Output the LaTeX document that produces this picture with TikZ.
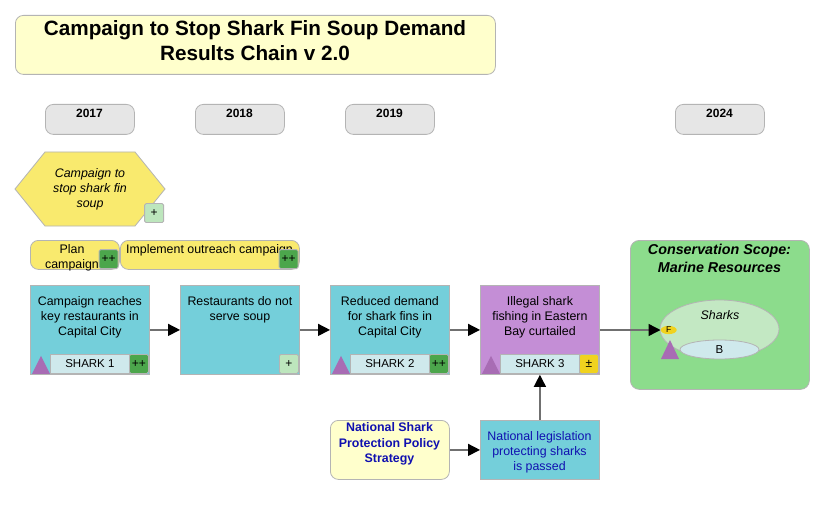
\documentclass[tikz,border=0pt]{standalone}
\usepackage{fontspec}
\setmainfont{Liberation Sans}
\usetikzlibrary{arrows.meta,shapes.geometric}
\definecolor{bordc}{HTML}{B4B4B4}
\definecolor{titlec}{HTML}{FFFFCC}
\definecolor{yearc}{HTML}{E6E6E6}
\definecolor{yelc}{HTML}{F9EA6E}
\definecolor{cyanc}{HTML}{74CFDA}
\definecolor{purpc}{HTML}{C48ED6}
\definecolor{tric}{HTML}{A86CB4}
\definecolor{labc}{HTML}{CFE9EC}
\definecolor{dgreen}{HTML}{4CA64C}
\definecolor{lgreen}{HTML}{BDE6BD}
\definecolor{pmc}{HTML}{F0D21E}
\definecolor{scopec}{HTML}{8CDC8C}
\definecolor{sharkc}{HTML}{C3E8C3}
\definecolor{bluetxt}{HTML}{1010B0}
\definecolor{linec}{HTML}{707070}
\tikzset{
  frame/.style={draw=bordc, line width=0.8pt},
  rbox/.style={frame, rounded corners=8pt, anchor=north west, inner sep=0pt},
  sbox/.style={frame, anchor=north west, inner sep=0pt},
  yearbox/.style={rbox, fill=yearc, minimum width=89pt, minimum height=30pt},
  yeartxt/.style={font=\bfseries\fontsize{12}{14}\selectfont, anchor=north, inner sep=0pt},
  chainbox/.style={sbox, minimum width=119pt, minimum height=89pt},
  txt/.style={font=\fontsize{12.4}{15}\selectfont, align=center, anchor=north, inner sep=0pt},
  badge/.style={frame, anchor=south east, minimum size=19pt, inner sep=0pt, rounded corners=1.5pt, font=\fontsize{12}{12}\selectfont},
  labbox/.style={frame, fill=labc, anchor=south west, minimum width=79pt, minimum height=19pt, inner sep=0pt, font=\fontsize{11.5}{12}\selectfont},
  tri/.style={fill=tric, draw=none},
  arr/.style={draw=linec, line width=1.4pt, -{Triangle[length=12pt,width=12pt,color=black]}},
}
\begin{document}
\begin{tikzpicture}[x=1pt,y=-1pt]
\useasboundingbox (0,0) rectangle (835,505);
\fill[white] (0,0) rectangle (835,505);
% title
\node[rbox, fill=titlec, minimum width=480pt, minimum height=59pt] (title) at (15,15) {};
\node[txt, font=\bfseries\fontsize{20.7}{25}\selectfont] (titletxt) at (255,20.5) {Campaign to Stop Shark Fin Soup Demand\\Results Chain v 2.0};
% years
\node[yearbox] (y17) at (45,104) {};
\node[yeartxt] (y17t) at (89.5,108.5) {2017};
\node[yearbox] (y18) at (195,104) {};
\node[yeartxt] (y18t) at (239.5,108.5) {2018};
\node[yearbox] (y19) at (345,104) {};
\node[yeartxt] (y19t) at (389.5,108.5) {2019};
\node[yearbox] (y24) at (675,104) {};
\node[yeartxt] (y24t) at (719.5,108.5) {2024};
% hexagon strategy
\draw[frame, fill=yelc] (15,189) -- (45,152) -- (135,152) -- (165,189) -- (135,226) -- (45,226) -- cycle;
\node[txt, font=\itshape\fontsize{12.4}{15}\selectfont] (hextxt) at (90,168.5) {Campaign to\\stop shark fin\\soup};
\node[badge, fill=lgreen] (hexb) at (164,223) {+};
% activities
\node[rbox, fill=yelc, minimum width=89pt, minimum height=29pt] (plan) at (30,240) {};
\node[txt] (plantxt) at (72,244) {Plan\\campaign};
\node[badge, fill=dgreen] (planb) at (118.5,269) {++};
\node[rbox, fill=yelc, minimum width=179pt, minimum height=29pt] (impl) at (120,240) {};
\node[txt] (impltxt) at (209.5,244) {Implement outreach campaign};
\node[badge, fill=dgreen] (implb) at (298.5,269) {++};
% chain boxes
\node[chainbox, fill=cyanc] (b1) at (30,285) {};
\node[txt] (b1t) at (b1.north) [yshift=-11pt] {Campaign reaches\\key restaurants in\\Capital City};
\node[badge, fill=dgreen] (b1b) at ([xshift=-1pt,yshift=1pt]b1.south east) {++};
\node[labbox] (b1l) at ([xshift=20pt,yshift=1pt]b1.south west) {SHARK 1};
\path[tri] ([xshift=2pt,yshift=1pt]b1.south west) -- ([xshift=20pt,yshift=1pt]b1.south west) -- ([xshift=11pt,yshift=19pt]b1.south west) -- cycle;

\node[chainbox, fill=cyanc] (b2) at (180,285) {};
\node[txt] (b2t) at (b2.north) [yshift=-11pt] {Restaurants do not\\serve soup};
\node[badge, fill=lgreen] (b2b) at ([xshift=-1pt,yshift=1pt]b2.south east) {+};

\node[chainbox, fill=cyanc] (b3) at (330,285) {};
\node[txt] (b3t) at (b3.north) [yshift=-11pt] {Reduced demand\\for shark fins in\\Capital City};
\node[badge, fill=dgreen] (b3b) at ([xshift=-1pt,yshift=1pt]b3.south east) {++};
\node[labbox] (b3l) at ([xshift=20pt,yshift=1pt]b3.south west) {SHARK 2};
\path[tri] ([xshift=2pt,yshift=1pt]b3.south west) -- ([xshift=20pt,yshift=1pt]b3.south west) -- ([xshift=11pt,yshift=19pt]b3.south west) -- cycle;

\node[chainbox, fill=purpc] (b4) at (480,285) {};
\node[txt] (b4t) at (b4.north) [yshift=-11pt] {Illegal shark\\fishing in Eastern\\Bay curtailed};
\node[badge, fill=pmc] (b4b) at ([xshift=-1pt,yshift=1pt]b4.south east) {±};
\node[labbox] (b4l) at ([xshift=20pt,yshift=1pt]b4.south west) {SHARK 3};
\path[tri] ([xshift=2pt,yshift=1pt]b4.south west) -- ([xshift=20pt,yshift=1pt]b4.south west) -- ([xshift=11pt,yshift=19pt]b4.south west) -- cycle;

% bottom row
\node[rbox, fill=titlec, minimum width=119pt, minimum height=59pt] (pol) at (330,420) {};
\node[txt, font=\bfseries\fontsize{12.4}{15.5}\selectfont, text=bluetxt] (poltxt) at (389.5,422.5) {National Shark\\Protection Policy\\Strategy};
\node[sbox, fill=cyanc, minimum width=119pt, minimum height=59pt] (leg) at (480,420) {};
\node[txt, text=bluetxt] (legtxt) at (539.5,431) {National legislation\\protecting sharks\\is passed};

% conservation scope
\node[rbox, fill=scopec, minimum width=179pt, minimum height=149pt, rounded corners=9pt] (scope) at (630,240) {};
\node[txt, font=\bfseries\itshape\fontsize{14.3}{18}\selectfont] (scopetxt) at (719.5,244) {Conservation Scope:\\Marine Resources};
\node[ellipse, frame, fill=sharkc, minimum width=119pt, minimum height=58pt, inner sep=0pt] (sharks) at (719.5,329) {};
\node[font=\itshape\fontsize{12.4}{14}\selectfont, inner sep=0pt] (sharkstxt) at (720,315) {Sharks};
\node[ellipse, frame, fill=labc, minimum width=79pt, minimum height=19pt, inner sep=0pt, font=\fontsize{11.5}{12}\selectfont] (bel) at (719.5,349.5) {B};
\node[ellipse, fill=pmc, draw=none, minimum width=16pt, minimum height=7pt, inner sep=0pt, font=\fontsize{8.5}{9}\selectfont] (fel) at (668.7,330) {F};
\path[tri] (661,359) -- (679,359) -- (670,340) -- cycle;

% arrows
\draw[arr] (b1.east) -- (b2.west);
\draw[arr] (b2.east) -- (b3.west);
\draw[arr] (b3.east) -- (b4.west);
\draw[arr] (b4.east |- fel.west) -- (fel.west);
\draw[arr] (pol.east) -- (leg.west);
\draw[arr] (leg.north) -- (b4.south);
\end{tikzpicture}
\end{document}
